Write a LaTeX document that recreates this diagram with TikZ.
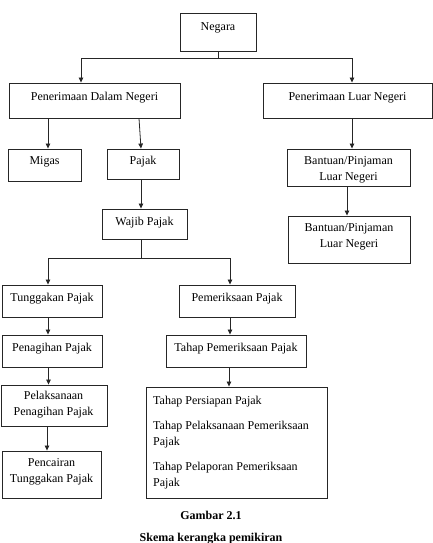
\documentclass[tikz,border=0pt]{standalone}
\usepackage{fontspec}
\setmainfont{Liberation Serif}
\usetikzlibrary{arrows.meta}
\newcommand\bbox[5]{\node[box, minimum width={#4-#2}, minimum height={#5-#3}] (#1) at ({(#2+#4)/2},{(#3+#5)/2}) {};}
\begin{document}
\begin{tikzpicture}[x=1pt,y=-1pt,
 box/.style={draw=black!85, line width=0.9pt, inner sep=0pt},
 lbl/.style={font=\fontsize{12}{16}\selectfont, inner sep=0pt, align=center, anchor=base},
 conn/.style={draw=black!85, line width=0.8pt},
 arr/.style={conn, -{Triangle[length=5pt,width=4.5pt]}}]
\useasboundingbox (0,0) rectangle (433,543);
% boxes
\bbox{negara}{180}{13}{256}{51}
\bbox{pdn}{9}{83}{180}{118}
\bbox{pln}{263}{83}{432}{118}
\bbox{migas}{8}{149}{81}{181}
\bbox{pajak}{107}{149}{179}{179}
\bbox{bant1}{287}{149}{410}{186}
\bbox{wajib}{102}{209}{187}{239}
\bbox{bant2}{288}{216}{410}{263}
\bbox{tung}{2}{285}{102}{317}
\bbox{pemer}{179}{285}{295}{317}
\bbox{penag}{2}{335}{102}{367}
\bbox{tahap}{166}{335}{306}{367}
\bbox{pelak}{1}{385}{107}{426}
\bbox{big}{146}{387}{327}{498}
\bbox{pencair}{2}{451}{101}{498}
% labels (for multi-line labels the base anchor is the last line's baseline)
\node[lbl] (negaraT) at (218,30.5) {Negara};
\node[lbl] (pdnT) at (94.5,100.5) {Penerimaan Dalam Negeri};
\node[lbl] (plnT) at (347.5,100.5) {Penerimaan Luar Negeri};
\node[lbl] (migasT) at (44.5,164.5) {Migas};
\node[lbl] (pajakT) at (143,164.5) {Pajak};
\node[lbl] (bant1T) at (348.5,180) {Bantuan/Pinjaman\\Luar Negeri};
\node[lbl] (wajibT) at (144.5,225.5) {Wajib Pajak};
\node[lbl] (bant2T) at (349,247.5) {Bantuan/Pinjaman\\Luar Negeri};
\node[lbl] (tungT) at (52,301) {Tunggakan Pajak};
\node[lbl] (pemerT) at (237,301) {Pemeriksaan Pajak};
\node[lbl] (penagT) at (52,351) {Penagihan Pajak};
\node[lbl] (tahapT) at (236,351) {Tahap Pemeriksaan Pajak};
\node[lbl] (pelakT) at (53.5,415.5) {Pelaksanaan\\Penagihan Pajak};
\node[lbl] (pencairT) at (51.5,482) {Pencairan\\Tunggakan Pajak};
\node[lbl, align=left, anchor=base west] (bigT) at (153,486) {Tahap Persiapan Pajak\\[9pt]Tahap Pelaksanaan Pemeriksaan\\Pajak\\[9pt]Tahap Pelaporan Pemeriksaan\\Pajak};
\node[lbl, font=\fontsize{12}{16}\selectfont\bfseries] (cap1) at (211,519.5) {Gambar 2.1};
\node[lbl, font=\fontsize{12}{16}\selectfont\bfseries] (cap2) at (211,541) {Skema kerangka pemikiran};
% connectors
\coordinate (j1) at ([yshift=-7pt]negara.south);
\coordinate (a1) at ([xshift=-13.5pt]pdn.north);
\coordinate (a2) at ([xshift=4.5pt]pln.north);
\draw[conn] (negara.south) -- (j1);
\draw[arr] (j1) -| (a1);
\draw[arr] (j1) -| (a2);
\coordinate (m1) at ([xshift=3.5pt]migas.north);
\draw[arr] (m1 |- pdn.south) -- (m1);
\coordinate (p0) at ([xshift=44.5pt]pdn.south);
\coordinate (p1) at ([xshift=-2pt]pajak.north);
\draw[arr] (p0) -- (p1);
\coordinate (b1) at ([xshift=3.5pt]bant1.north);
\draw[arr] (b1 |- pln.south) -- (b1);
\coordinate (b2) at ([xshift=-2pt]bant2.north);
\draw[arr] (b2 |- bant1.south) -- (b2);
\coordinate (w1) at ([xshift=-3.5pt]wajib.north);
\draw[arr] (w1 |- pajak.south) -- (w1);
\coordinate (j2) at ([xshift=-3.5pt,yshift=-19pt]wajib.south);
\draw[conn] (j2 |- wajib.south) -- (j2);
\coordinate (t1) at ([xshift=-4pt]tung.north);
\coordinate (e1) at ([xshift=-7pt]pemer.north);
\draw[arr] (j2) -| (t1);
\draw[arr] (j2) -| (e1);
\coordinate (t2) at ([xshift=-4pt]penag.north);
\draw[arr] (t2 |- tung.south) -- (t2);
\coordinate (e2) at ([xshift=-6pt]tahap.north);
\draw[arr] (e2 |- pemer.south) -- (e2);
\coordinate (t3) at ([xshift=-5.5pt]pelak.north);
\draw[arr] (t3 |- penag.south) -- (t3);
\coordinate (t4) at ([xshift=-4.5pt]pencair.north);
\draw[arr] (t4 |- pelak.south) -- (t4);
\coordinate (e3) at ([xshift=-7.5pt]big.north);
\draw[arr] (e3 |- tahap.south) -- (e3);
\end{tikzpicture}
\end{document}
